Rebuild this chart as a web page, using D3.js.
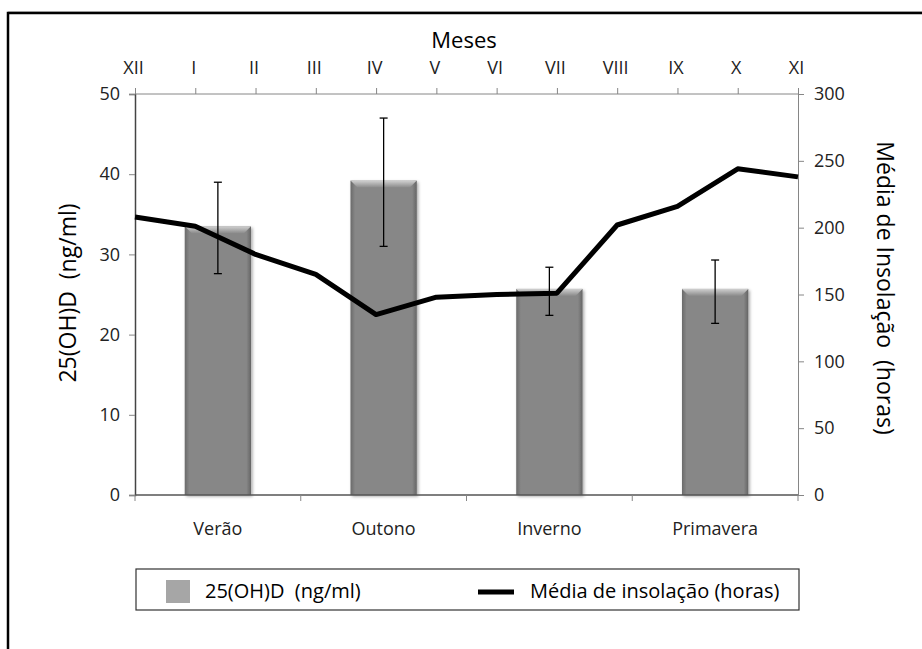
<!DOCTYPE html>
<html>
<head>
<meta charset="utf-8">
<script src="https://cdn.jsdelivr.net/npm/d3@7"></script>
<style>
  html, body { margin: 0; padding: 0; background: #fff; }
  svg { display: block; font-family: "Open Sans", sans-serif; }
  text { white-space: pre; }
</style>
</head>
<body>
<svg id="chart" width="922" height="649"></svg>
<script>
// ---- Data ----
const seasons = ["Verão", "Outono", "Inverno", "Primavera"];
const vitD = [33.5, 39.2, 25.7, 25.7];
const vitDHigh = [39.0, 47.0, 28.4, 29.3];
const vitDLow = [27.6, 31.0, 22.4, 21.4];
const months = ["XII", "I", "II", "III", "IV", "V", "VI", "VII", "VIII", "IX", "X", "XI"];
const insolation = [208, 201, 180, 165, 135, 148, 150, 151, 202, 216, 244, 238];
const leftTicks = [0, 10, 20, 30, 40, 50];
const rightTicks = [0, 50, 100, 150, 200, 250, 300];

// ---- Layout ----
const FONT = "'Open Sans', sans-serif";
const svg = d3.select("#chart");
const L = 135, R = 798, T = 94, B = 495;

const xBand = d3.scaleBand().domain(seasons).range([L, R]).paddingInner(0).paddingOuter(0);
const xMonth = d3.scalePoint().domain(months).range([L, R]).padding(0);
const yLeft = d3.scaleLinear().domain([0, 50]).range([B, T]);
const yRight = d3.scaleLinear().domain([0, 300]).range([B, T]);

// Outer frame
svg.append("rect").attr("x", 8).attr("y", 13).attr("width", 940).attr("height", 700)
  .attr("fill", "none").attr("stroke", "#000").attr("stroke-width", 2.5);
svg.append("line").attr("x1", 8).attr("x2", 922).attr("y1", 11.5).attr("y2", 11.5)
  .attr("stroke", "#9a9a9a").attr("stroke-width", 1);

// defs
const defs = svg.append("defs");
const g1 = defs.append("linearGradient").attr("id", "barGrad").attr("x1", "0").attr("x2", "1").attr("y1", "0").attr("y2", "0");
g1.append("stop").attr("offset", "0").attr("stop-color", "#6a6a6a");
g1.append("stop").attr("offset", "0.07").attr("stop-color", "#878787");
g1.append("stop").attr("offset", "0.93").attr("stop-color", "#878787");
g1.append("stop").attr("offset", "1").attr("stop-color", "#656565");
const g2 = defs.append("linearGradient").attr("id", "bevel").attr("x1", "0").attr("x2", "0").attr("y1", "0").attr("y2", "1");
g2.append("stop").attr("offset", "0").attr("stop-color", "#d0d0d0");
g2.append("stop").attr("offset", "1").attr("stop-color", "#8a8a8a");
const f = defs.append("filter").attr("id", "shadow").attr("x", "-20%").attr("y", "-5%").attr("width", "140%").attr("height", "115%");
f.append("feDropShadow").attr("dx", 1.5).attr("dy", 1.5).attr("stdDeviation", 1.5).attr("flood-color", "#000").attr("flood-opacity", 0.35);

// Bars
const barW = xBand.bandwidth() * 0.4;
const bars = svg.append("g");
seasons.forEach((s, i) => {
  const cx = xBand(s) + xBand.bandwidth() / 2;
  const x0 = cx - barW / 2;
  const yt = yLeft(vitD[i]);
  bars.append("rect").attr("x", x0).attr("y", yt).attr("width", barW).attr("height", B - yt)
    .attr("fill", "url(#barGrad)").attr("filter", "url(#shadow)");
  const bv = 7;
  bars.append("path")
    .attr("d", `M${x0},${yt}L${x0 + barW},${yt}L${x0 + barW - bv},${yt + bv}L${x0 + bv},${yt + bv}Z`)
    .attr("fill", "url(#bevel)");
});

// Error bars
const err = svg.append("g").attr("stroke", "#000").attr("stroke-width", 1.3);
seasons.forEach((s, i) => {
  const cx = xBand(s) + xBand.bandwidth() / 2;
  err.append("line").attr("x1", cx).attr("x2", cx).attr("y1", yLeft(vitDHigh[i])).attr("y2", yLeft(vitDLow[i]));
  [vitDHigh[i], vitDLow[i]].forEach(v => {
    err.append("line").attr("x1", cx - 4).attr("x2", cx + 4).attr("y1", yLeft(v)).attr("y2", yLeft(v));
  });
});

// Axes
const axisColor = "#868686";
const textColor = "#222";

// Left axis
const gl = svg.append("g").attr("transform", `translate(${L},0)`)
  .call(d3.axisLeft(yLeft).tickValues(leftTicks).tickSize(6).tickPadding(9));
gl.select(".domain").attr("stroke", "#444").attr("stroke-width", 1.5);
gl.selectAll(".tick line").attr("stroke", axisColor);
gl.selectAll(".tick text").attr("font-size", 18).attr("fill", textColor).attr("font-family", FONT);

// Right axis
const gr = svg.append("g").attr("transform", `translate(${R},0)`)
  .call(d3.axisRight(yRight).tickValues(rightTicks).tickSize(6).tickPadding(10));
gr.select(".domain").attr("stroke", axisColor);
gr.selectAll(".tick line").attr("stroke", axisColor);
gr.selectAll(".tick text").attr("font-size", 18).attr("fill", textColor).attr("font-family", FONT);

// Bottom axis (season boundaries)
const gb = svg.append("g").attr("transform", `translate(0,${B})`);
gb.append("line").attr("x1", L).attr("x2", R).attr("y1", 0).attr("y2", 0).attr("stroke", "#555").attr("stroke-width", 1.5);
const bounds = seasons.map(s => xBand(s)).concat([R]);
gb.selectAll("line.bt").data(bounds).enter().append("line").attr("class", "bt")
  .attr("x1", d => d).attr("x2", d => d).attr("y1", 0).attr("y2", 6).attr("stroke", axisColor);
gb.selectAll("text").data(seasons).enter().append("text")
  .attr("x", d => xBand(d) + xBand.bandwidth() / 2).attr("y", 40)
  .attr("text-anchor", "middle").attr("font-size", 18).attr("fill", textColor).text(d => d);

// Top axis (months)
const gt = svg.append("g").attr("transform", `translate(0,${T})`)
  .call(d3.axisTop(xMonth).tickSize(6).tickPadding(14));
gt.select(".domain").attr("stroke", axisColor).attr("d", `M${L},0H${R}`);
gt.selectAll(".tick line").attr("stroke", axisColor);
gt.selectAll(".tick text").attr("font-size", 18).attr("fill", textColor).attr("font-family", FONT).attr("dx", -2);

// Line
const line = d3.line().x((d, i) => xMonth(months[i])).y(d => yRight(d));
svg.append("path").datum(insolation).attr("d", line)
  .attr("fill", "none").attr("stroke", "#000").attr("stroke-width", 5).attr("stroke-linejoin", "round");

// Titles
svg.append("text").attr("x", 464).attr("y", 48).attr("text-anchor", "middle")
  .attr("font-size", 22).attr("fill", "#000").text("Meses");
svg.append("text").attr("transform", `translate(76,293) rotate(-90)`).attr("text-anchor", "middle")
  .attr("font-size", 23).attr("fill", "#000").text("25(OH)D  (ng/ml)");
svg.append("text").attr("transform", `translate(877,288) rotate(90)`).attr("text-anchor", "middle")
  .attr("font-size", 23).attr("fill", "#000").text("Média de Insolação  (horas)");

// Legend
const lg = svg.append("g");
lg.append("rect").attr("x", 136).attr("y", 569).attr("width", 663).attr("height", 41)
  .attr("fill", "#fff").attr("stroke", "#333").attr("stroke-width", 1.2);
lg.append("rect").attr("x", 166).attr("y", 580).attr("width", 24).attr("height", 23).attr("fill", "#a6a6a6");
lg.append("text").attr("x", 205).attr("y", 598).attr("font-size", 20).attr("fill", "#000").text("25(OH)D  (ng/ml)");
lg.append("line").attr("x1", 478).attr("x2", 514).attr("y1", 592).attr("y2", 592).attr("stroke", "#000").attr("stroke-width", 5);
lg.append("text").attr("x", 530).attr("y", 598).attr("font-size", 20).attr("fill", "#000").text("Média de insolação (horas)");
</script>
</body>
</html>
